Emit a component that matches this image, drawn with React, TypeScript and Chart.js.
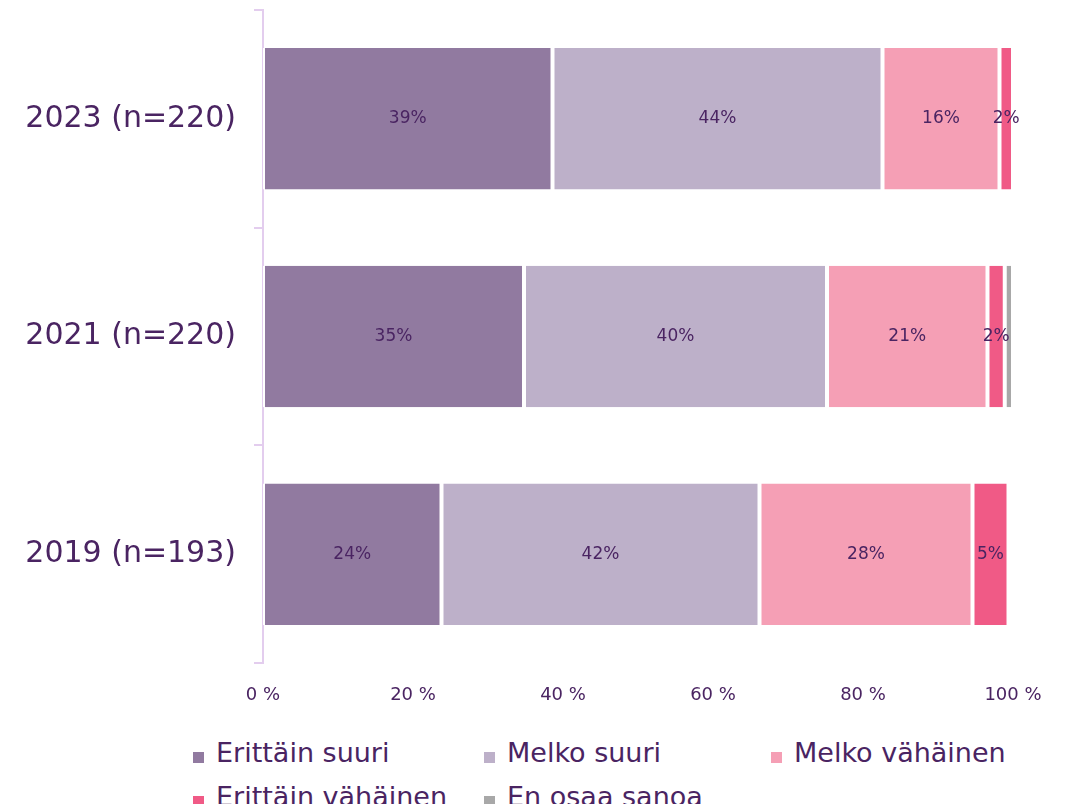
import React, { useEffect, useRef } from "react";
import { Chart, registerables } from "chart.js";
Chart.register(...registerables);

const categories = ["2023 (n=220)", "2021 (n=220)", "2019 (n=193)"];
const seriesNames = ["Erittäin suuri", "Melko suuri", "Melko vähäinen", "Erittäin vähäinen", "En osaa sanoa"];
const erittainSuuri = [38.6, 34.8, 23.8];
const melkoSuuri = [44.0, 40.4, 42.4];
const melkoVahainen = [15.6, 21.4, 28.4];
const erittainVahainen = [1.8, 2.3, 4.8];
const enOsaaSanoa = [0, 1.1, 0];
const xTickValues = [0, 20, 40, 60, 80, 100];
const seriesColors = ["#917aa0", "#bdb0c9", "#f59fb5", "#f05a86", "#a8a8a8"];

const TEXT = "#4a2462";
const AXIS = "#e3cdee";
const FONT = "'DejaVu Sans'";

const labelPlugin = {
  id: "segLabels",
  afterDatasetsDraw(chart: any) {
    const ctx = chart.ctx;
    ctx.save();
    ctx.font = `17px ${FONT}`;
    ctx.fillStyle = TEXT;
    ctx.textAlign = "center";
    ctx.textBaseline = "middle";
    chart.data.datasets.forEach((ds: any, di: number) => {
      const meta = chart.getDatasetMeta(di);
      meta.data.forEach((bar: any, i: number) => {
        const v = ds.data[i];
        if (!v || v < 1.5) return;
        const p = bar.getProps(["x", "y", "base"], true);
        ctx.fillText(Math.round(v) + "%", (p.x + p.base) / 2, p.y);
      });
    });
    ctx.restore();
  },
};

export default function App() {
  const ref = useRef<HTMLCanvasElement>(null);
  useEffect(() => {
    const series = [erittainSuuri, melkoSuuri, melkoVahainen, erittainVahainen, enOsaaSanoa];
    const chart = new Chart(ref.current!, {
      type: "bar",
      data: {
        labels: categories,
        datasets: series.map((d, i) => ({
          label: seriesNames[i],
          data: d,
          backgroundColor: seriesColors[i],
          borderColor: "#ffffff",
          borderWidth: { left: 2, right: 2, top: 0, bottom: 0 },
          borderSkipped: false,
          categoryPercentage: 1,
          barPercentage: 0.65,
        })),
      },
      options: {
        indexAxis: "y",
        animation: false,
        responsive: false,
        maintainAspectRatio: false,
        layout: { padding: { top: 2, right: 53, left: 0, bottom: 0 } },
        plugins: { legend: { display: false }, tooltip: { enabled: false } },
        scales: {
          x: {
            stacked: true,
            min: 0,
            max: 100,
            afterBuildTicks: (s: any) => {
              s.ticks = xTickValues.map((v) => ({ value: v }));
            },
            afterFit: (s: any) => {
              s.height = 45;
              s.paddingLeft = 0;
              s.paddingRight = 0;
              s.paddingTop = 0;
              s.paddingBottom = 0;
            },
            grid: { display: false },
            border: { display: false },
            ticks: {
              color: TEXT,
              font: { family: FONT, size: 18 },
              padding: 14,
              callback: (v: any) => v + " %",
            },
          },
          y: {
            stacked: true,
            afterFit: (s: any) => {
              s.width = 255;
              s.paddingLeft = 0;
              s.paddingRight = 0;
              s.paddingTop = 0;
              s.paddingBottom = 0;
            },
            grid: {
              display: true,
              drawOnChartArea: false,
              drawTicks: true,
              tickLength: 9,
              color: AXIS,
              lineWidth: 2,
              offset: true,
            },
            border: { display: true, color: AXIS, width: 2 },
            ticks: {
              color: TEXT,
              font: { family: FONT, size: 30 },
              padding: 18,
            },
          },
        },
      },
      plugins: [labelPlugin],
    });
    return () => chart.destroy();
  }, []);

  const legendItem = (i: number) => (
    <div key={i} style={{ display: "flex", alignItems: "center", whiteSpace: "nowrap" }}>
      <span
        style={{
          display: "inline-block",
          width: 11,
          height: 11,
          background: seriesColors[i],
          marginRight: 12,
          marginTop: 8,
        }}
      />
      <span>{seriesNames[i]}</span>
    </div>
  );

  return (
    <div style={{ width: 1058, height: 796, overflow: "hidden", fontFamily: FONT }}>
      <canvas ref={ref} width={1058} height={700} style={{ display: "block" }} />
      <div
        style={{
          display: "grid",
          gridTemplateColumns: "291px 287px auto",
          rowGap: 8,
          paddingLeft: 185,
          paddingTop: 27,
          color: TEXT,
          fontSize: 27,
          lineHeight: "36px",
        }}
      >
        {seriesNames.map((_, i) => legendItem(i))}
      </div>
    </div>
  );
}
